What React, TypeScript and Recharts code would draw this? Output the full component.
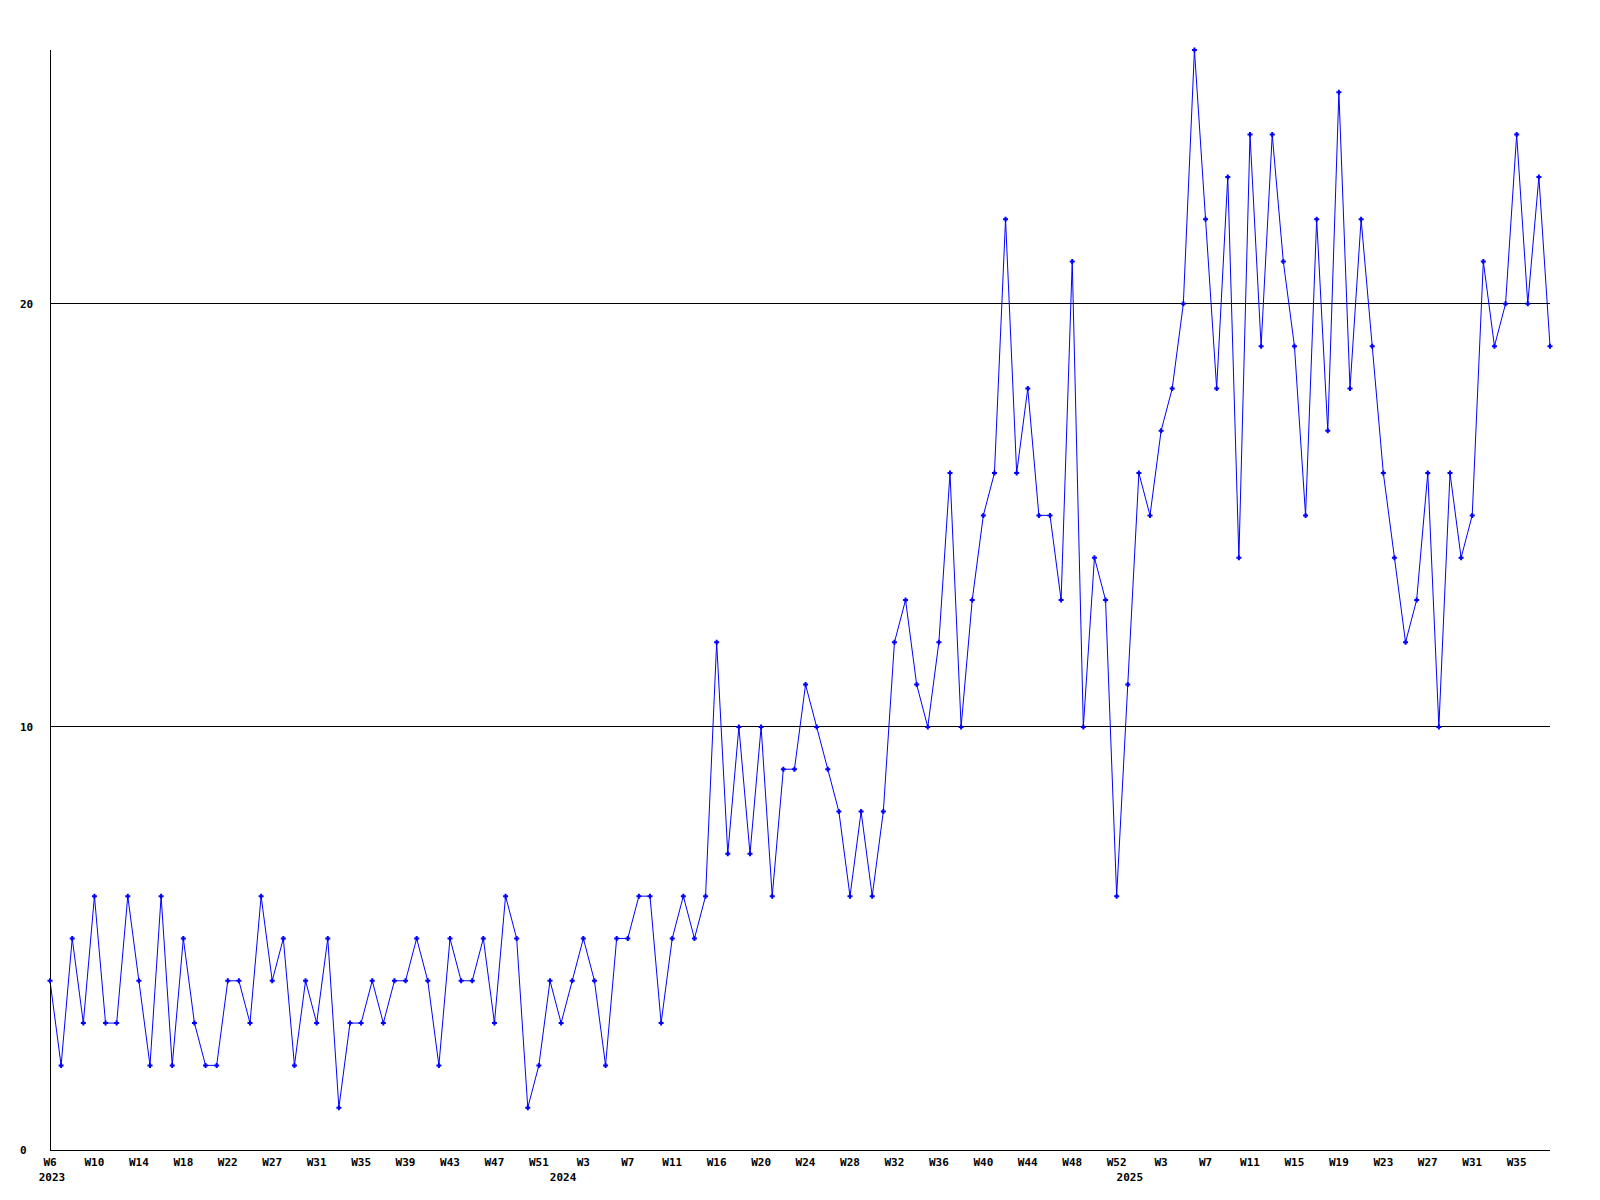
import React from "react";
import { LineChart, Line, XAxis, YAxis, ReferenceLine } from "recharts";

// Weekly counts, first point = 2023 W6
const values2023 = [4, 2, 5, 3, 6, 3, 3, 6, 4, 2, 6, 2, 5, 3, 2, 2, 4, 4, 3, 6, 4, 5, 2, 4, 3, 5, 1, 3, 3, 4, 3, 4, 4, 5, 4, 2, 5, 4, 4, 5, 3, 6, 5, 1, 2, 4];
const values2024 = [3, 4, 5, 4, 2, 5, 5, 6, 6, 3, 5, 6, 5, 6, 12, 7, 10, 7, 10, 6, 9, 9, 11, 10, 9, 8, 6, 8, 6, 8, 12, 13, 11, 10, 12, 16, 10, 13, 15, 16, 22, 16, 18, 15, 15, 13, 21, 10, 14, 13, 6];
const values2025 = [11, 16, 15, 17, 18, 20, 26, 22, 18, 23, 14, 24, 19, 24, 21, 19, 15, 22, 17, 25, 18, 22, 19, 16, 14, 12, 13, 16, 10, 16, 14, 15, 21, 19, 20, 24, 20, 23, 19];

const values = [...values2023, ...values2024, ...values2025];

// x-axis week labels, one every 4th point
const weekLabels = ["W6", "W10", "W14", "W18", "W22", "W27", "W31", "W35", "W39", "W43", "W47", "W51", "W3", "W7", "W11", "W16", "W20", "W24", "W28", "W32", "W36", "W40", "W44", "W48", "W52", "W3", "W7", "W11", "W15", "W19", "W23", "W27", "W31", "W35"];
const weekLabelStep = 4;
// year labels: point index of first week of each year
const yearLabels: [number, string][] = [[0, "2023"], [46, "2024"], [97, "2025"]];

const yTicks = [0, 10, 20];
const gridLines = [10, 20];
const yMax = 26;

const data = values.map((v, i) => ({ i, v }));
const weekMap = new Map<number, string>(weekLabels.map((l, k) => [k * weekLabelStep, l]));
const yearMap = new Map<number, string>(yearLabels);
const xTicks = Array.from(new Set([...weekMap.keys(), ...yearMap.keys()])).sort((a, b) => a - b);

const FONT = "'DejaVu Sans Mono', 'Liberation Mono', monospace";

const XTick = (props: any) => {
  const { x, y, payload } = props;
  const idx = payload.value;
  const wk = weekMap.get(idx);
  const yr = yearMap.get(idx);
  return (
    <g>
      {wk && (
        <text x={x} y={y + 16} textAnchor="middle" fontFamily={FONT} fontWeight="bold" fontSize={11} fill="#000">
          {wk}
        </text>
      )}
      {yr && (
        <text x={x + 2} y={y + 31} textAnchor="middle" fontFamily={FONT} fontWeight="bold" fontSize={11} fill="#000">
          {yr}
        </text>
      )}
    </g>
  );
};

const YTick = (props: any) => {
  const { y, payload } = props;
  return (
    <text x={20} y={y + 4} textAnchor="start" fontFamily={FONT} fontWeight="bold" fontSize={11} fill="#000">
      {payload.value}
    </text>
  );
};

const PlusDot = (props: any) => {
  const { cx, cy, index } = props;
  if (cx == null || cy == null) return <g key={index} />;
  return (
    <path
      key={index}
      d={`M${cx - 2.5},${cy} H${cx + 2.5} M${cx},${cy - 2.5} V${cy + 2.5}`}
      stroke="#0000ff"
      strokeWidth={2}
      fill="none"
    />
  );
};

export default function App() {
  return (
    <div style={{ position: "absolute", left: 0, top: 0, width: 1600, height: 1200, background: "#fff" }}>
      <LineChart width={1600} height={1200} data={data} margin={{ top: 50, right: 50, bottom: 0, left: 49 }}>
        {gridLines.map((g) => (
          <ReferenceLine key={g} y={g} stroke="#000" strokeWidth={1} shapeRendering="crispEdges" ifOverflow="visible" />
        ))}
        <XAxis
          dataKey="i"
          type="number"
          domain={[0, values.length - 1]}
          ticks={xTicks}
          interval={0}
          tickLine={false}
          tickSize={0}
          tickMargin={0}
          axisLine={{ stroke: "#000", strokeWidth: 1, shapeRendering: "crispEdges" }}
          height={50}
          tick={<XTick />}
        />
        <YAxis
          type="number"
          domain={[0, yMax]}
          ticks={yTicks}
          interval={0}
          width={1}
          tickLine={false}
          tickSize={0}
          tickMargin={0}
          axisLine={{ stroke: "#000", strokeWidth: 1, shapeRendering: "crispEdges" }}
          tick={<YTick />}
        />
        <Line
          type="linear"
          dataKey="v"
          stroke="#0000ff"
          strokeWidth={1}
          dot={PlusDot}
          activeDot={false}
          isAnimationActive={false}
        />
      </LineChart>
    </div>
  );
}
